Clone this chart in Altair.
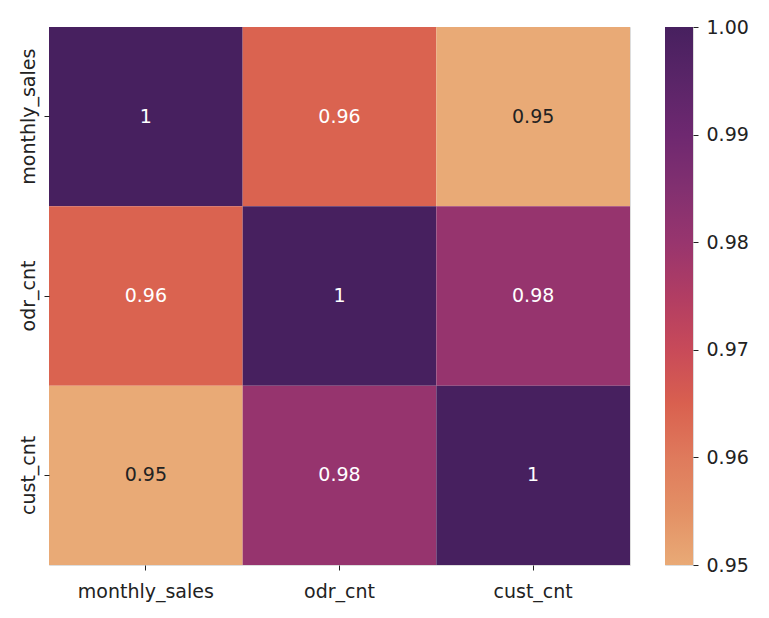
import altair as alt
import pandas as pd

labels = ["monthly_sales", "odr_cnt", "cust_cnt"]
corr = [
    [1.0, 0.9645, 0.9500],
    [0.9645, 1.0, 0.9805],
    [0.9500, 0.9805, 1.0],
]
annot = [
    ["1", "0.96", "0.95"],
    ["0.96", "1", "0.98"],
    ["0.95", "0.98", "1"],
]
cbar_min = [0.95]
cbar_max = [1.00]
cbar_ticks = [0.95, 0.96, 0.97, 0.98, 0.99, 1.00]
flare = ["#e9aa76", "#e39065", "#df7a5c", "#d9604f", "#c84a59", "#b13d63",
         "#98356e", "#823070", "#6e2870", "#5a2568", "#47205f"]

rows = []
for i, r in enumerate(labels):
    for j, c in enumerate(labels):
        rows.append({"row": r, "col": c, "v": corr[i][j], "t": annot[i][j]})
df = pd.DataFrame(rows)
cbar_df = pd.DataFrame({"lo": cbar_min, "hi": cbar_max})

font = "DejaVu Sans"

base = alt.Chart(df).encode(
    x=alt.X("col:N", sort=labels, title=None,
            axis=alt.Axis(labelAngle=0, tickSize=5, labelPadding=12, domain=False,
                          labelFontSize=19, labelColor="#222", tickColor="#222")),
    y=alt.Y("row:N", sort=labels, title=None,
            axis=alt.Axis(labelAngle=270, labelAlign="center", labelBaseline="bottom",
                          tickSize=5, labelPadding=6, domain=False,
                          labelFontSize=19, labelColor="#222", tickColor="#222")),
)

rects = base.mark_rect().encode(
    color=alt.Color("v:Q", legend=None,
                    scale=alt.Scale(domain=[0.95, 1.0], range=flare, interpolate="rgb"))
)

texts = base.mark_text(fontSize=19, font=font).encode(
    text="t:N",
    color=alt.condition(alt.datum.v < 0.955, alt.value("#222222"), alt.value("#ffffff")),
)

heat = (rects + texts).properties(width=581, height=538)

n = len(flare)
grad = alt.LinearGradient(
    gradient="linear", x1=0, x2=0, y1=1, y2=0,
    stops=[alt.GradientStop(color=c, offset=k / (n - 1)) for k, c in enumerate(flare)],
)

cbar = alt.Chart(cbar_df).mark_rect(fill=grad, strokeWidth=0).encode(
    x=alt.value(0), x2=alt.value(28),
    y=alt.Y("lo:Q", title=None,
            scale=alt.Scale(domain=[0.95, 1.0], nice=False, zero=False),
            axis=alt.Axis(orient="right", values=cbar_ticks, format=".2f", tickSize=5,
                          labelPadding=8, domain=False, grid=False, labelFontSize=19,
                          labelColor="#222", tickColor="#222", labelFlush=False)),
    y2="hi:Q",
).properties(width=28, height=538)

chart = alt.hconcat(heat, cbar, spacing=33).properties(
    padding={"left": 10, "top": 9, "right": 5, "bottom": 5},
).configure_view(stroke=None).configure(font=font)

chart.save("out.html", embed_options={"renderer": "svg", "actions": False})
